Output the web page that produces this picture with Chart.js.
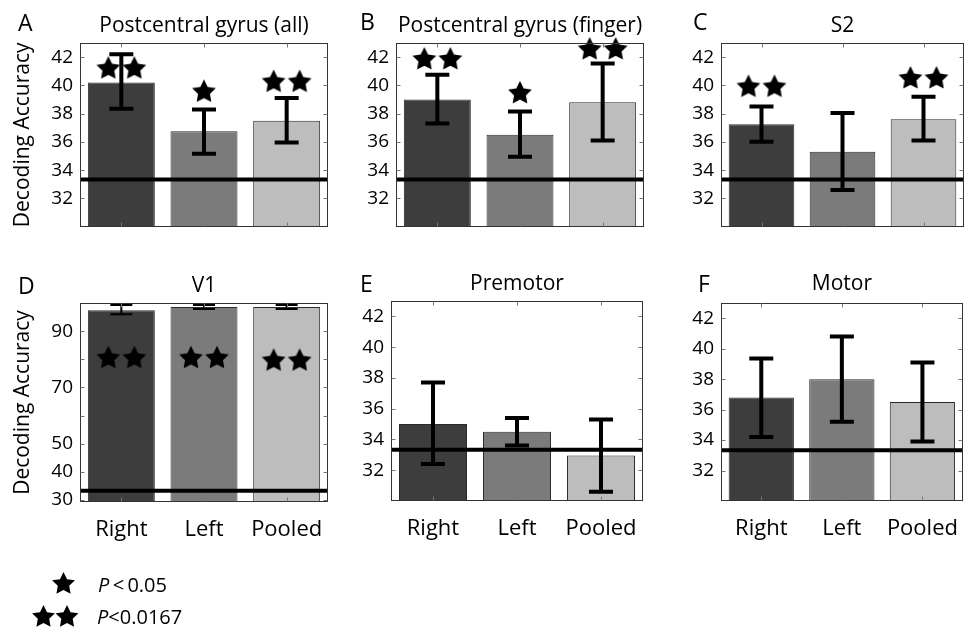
<!DOCTYPE html>
<html>
<head>
<meta charset="utf-8">
<script src="https://cdn.jsdelivr.net/npm/chart.js@4.4.1/dist/chart.umd.min.js"></script>
<style>
  html, body { margin: 0; padding: 0; background: #fff; }
  body { width: 968px; height: 633px; position: relative; overflow: hidden; font-family: "Open Sans", sans-serif; color: #000; }
  .panel { position: absolute; }
  .legend { position: absolute; font-size: 20px; line-height: 20px; white-space: nowrap; }
</style>
</head>
<body>
<div class="panel" style="left:0;top:0;width:340px;height:245px"><canvas id="cA"></canvas></div>
<div class="panel" style="left:340px;top:0;width:315px;height:245px"><canvas id="cB"></canvas></div>
<div class="panel" style="left:655px;top:0;width:320px;height:245px"><canvas id="cC"></canvas></div>
<div class="panel" style="left:0;top:250px;width:340px;height:300px"><canvas id="cD"></canvas></div>
<div class="panel" style="left:340px;top:250px;width:315px;height:300px"><canvas id="cE"></canvas></div>
<div class="panel" style="left:655px;top:250px;width:320px;height:300px"><canvas id="cF"></canvas></div>

<canvas id="legendStars" width="80" height="70" style="position:absolute;left:20px;top:565px"></canvas>
<div class="legend" style="left:98px;top:575px"><i>P</i>&thinsp;&lt;&thinsp;0.05</div>
<div class="legend" style="left:97px;top:607px"><i>P</i>&lt;0.0167</div>

<script>
// decoding accuracy (%) per hand condition, error bar ends and significance stars
var labels = ['Right', 'Left', 'Pooled'];
var chance = 100 / 3;

var yTicksPct = [32, 34, 36, 38, 40, 42];
var yTicksV1 = [30, 40, 50, 60, 70, 80, 90];
var yLabelsV1 = [30, 40, 50, 70, 90];

// A - Postcentral gyrus (all)
var meanA = [40.2, 36.75, 37.5];
var loA = [38.35, 35.15, 35.95];
var hiA = [42.2, 38.3, 39.1];
var starsA = [2, 1, 2];
var starYA = [41.15, 39.5, 40.2];

// B - Postcentral gyrus (finger)
var meanB = [39.0, 36.5, 38.8];
var loB = [37.3, 34.95, 36.1];
var hiB = [40.75, 38.15, 41.55];
var starsB = [2, 1, 2];
var starYB = [41.8, 39.4, 42.5];

// C - S2
var meanC = [37.25, 35.3, 37.6];
var loC = [36.0, 32.6, 36.1];
var hiC = [38.5, 38.05, 39.2];
var starsC = [2, 0, 2];
var starYC = [39.85, null, 40.45];

// D - V1
var meanD = [97.4, 98.6, 98.6];
var loD = [96.0, 97.9, 97.9];
var hiD = [99.3, 99.3, 99.3];
var starsD = [2, 2, 2];
var starYD = [80.2, 80.2, 79.3];

// E - Premotor
var meanE = [35.0, 34.5, 32.95];
var loE = [32.4, 33.6, 30.6];
var hiE = [37.7, 35.4, 35.3];
var starsE = [0, 0, 0];
var starYE = [null, null, null];

// F - Motor
var meanF = [36.8, 38.0, 36.5];
var loF = [34.2, 35.2, 33.9];
var hiF = [39.35, 40.8, 39.1];
var starsF = [0, 0, 0];
var starYF = [null, null, null];

var barColors = ['#3d3d3d', '#7b7b7b', '#bdbdbd'];

Chart.defaults.font.family = '"Open Sans", sans-serif';
Chart.defaults.color = '#000';

function drawStar(ctx, cx, cy, r) {
  ctx.beginPath();
  for (var k = 0; k < 10; k++) {
    var ang = -Math.PI / 2 + k * Math.PI / 5;
    var rr = k % 2 === 0 ? r : r * 0.5;
    var px = cx + rr * Math.cos(ang), py = cy + rr * Math.sin(ang);
    if (k === 0) ctx.moveTo(px, py); else ctx.lineTo(px, py);
  }
  ctx.closePath();
  ctx.fill();
}

function starImage(n) {
  var c = document.createElement('canvas');
  c.width = n === 2 ? 56 : 28;
  c.height = 28;
  var g = c.getContext('2d');
  g.fillStyle = '#000';
  if (n === 2) {
    drawStar(g, 28 - 13, 13.5, 12.5);
    drawStar(g, 28 + 13, 13.5, 12.5);
  } else {
    drawStar(g, 14, 13.5, 12.5);
  }
  return c;
}
var star1 = starImage(1), star2 = starImage(2);

function decor(p) {
  return {
    id: 'decor',
    afterDatasetsDraw: function (chart) {
      var ctx = chart.ctx, a = chart.chartArea;
      var x = chart.scales.x, y = chart.scales.y;
      ctx.save();

      // chance level
      var yc = y.getPixelForValue(chance);
      ctx.strokeStyle = '#000';
      ctx.lineWidth = 4;
      ctx.beginPath();
      ctx.moveTo(a.left, yc);
      ctx.lineTo(a.right, yc);
      ctx.stroke();

      // error bars
      ctx.lineWidth = p.errWidth;
      p.lo.forEach(function (lo, i) {
        var xp = x.getPixelForValue(i);
        var y1 = y.getPixelForValue(lo), y2 = y.getPixelForValue(p.hi[i]);
        ctx.beginPath();
        ctx.moveTo(xp, y1); ctx.lineTo(xp, y2);
        ctx.moveTo(xp - p.cap, y1); ctx.lineTo(xp + p.cap, y1);
        ctx.moveTo(xp - p.cap, y2); ctx.lineTo(xp + p.cap, y2);
        ctx.stroke();
      });

      // axes box with inward ticks
      ctx.lineWidth = 1;
      ctx.strokeStyle = '#333';
      var L = Math.round(a.left) + 0.5, R = Math.round(a.right) - 0.5;
      var T = Math.round(a.top) + 0.5, B = Math.round(a.bottom) - 0.5;
      ctx.strokeRect(L, T, R - L, B - T);
      ctx.strokeStyle = '#777';
      ctx.beginPath();
      labels.forEach(function (lb, i) {
        var xp = Math.round(x.getPixelForValue(i)) + 0.5;
        ctx.moveTo(xp, T); ctx.lineTo(xp, T + 4);
        ctx.moveTo(xp, B); ctx.lineTo(xp, B - 4);
      });
      y.ticks.forEach(function (t) {
        var yp = Math.round(y.getPixelForValue(t.value)) + 0.5;
        ctx.moveTo(L, yp); ctx.lineTo(L + 4, yp);
        ctx.moveTo(R, yp); ctx.lineTo(R - 4, yp);
      });
      ctx.stroke();

      // panel letter
      ctx.fillStyle = '#000';
      ctx.font = '23px "Open Sans"';
      ctx.textBaseline = 'alphabetic';
      ctx.textAlign = 'left';
      ctx.fillText(p.letter, a.left + p.letterDx, p.letterY);
      ctx.restore();
    }
  };
}

function makeChart(p) {
  new Chart(document.getElementById(p.id), {
    type: 'bar',
    data: {
      labels: labels,
      datasets: [{
        type: 'line',
        data: p.starY,
        showLine: false,
        pointStyle: function (c) { return p.stars[c.dataIndex] === 2 ? star2 : star1; },
        pointRadius: 10,
        clip: false,
        order: 0
      }, {
        type: 'bar',
        data: p.mean,
        backgroundColor: barColors,
        borderColor: '#2b2b2b',
        borderWidth: 1,
        borderSkipped: false,
        barPercentage: 0.81,
        categoryPercentage: 1,
        order: 1
      }]
    },
    options: {
      responsive: true,
      maintainAspectRatio: false,
      animation: false,
      events: [],
      layout: { padding: p.pad },
      scales: {
        x: {
          display: p.xlabels,
          grid: { display: false, drawTicks: false },
          border: { display: false },
          ticks: { font: { size: 22 }, color: '#000', padding: 15 },
          afterFit: function (s) { if (p.xlabels) s.height = 45; }
        },
        y: {
          min: p.min,
          max: p.max,
          afterBuildTicks: function (s) {
            s.ticks = p.ticks.map(function (v) { return { value: v }; });
          },
          afterFit: function (s) { s.width = p.yw; },
          grid: { display: false, drawTicks: false },
          border: { display: false },
          ticks: {
            font: { size: 19 },
            color: '#000',
            padding: 7,
            callback: function (v) { return p.tickLabels.indexOf(v) >= 0 ? v : ''; }
          },
          title: {
            display: !!p.ytitle,
            text: 'Decoding Accuracy',
            font: { size: 21 },
            color: '#000',
            padding: { top: 10, bottom: 0 }
          }
        }
      },
      plugins: {
        legend: { display: false },
        tooltip: { enabled: false },
        title: {
          display: true,
          text: p.title,
          fullSize: false,
          color: '#000',
          font: { size: 21, weight: 'normal' },
          padding: { top: p.tpt, bottom: p.tpb }
        }
      }
    },
    plugins: [decor(p)]
  });
}

var panels = [
  { id: 'cA', letter: 'A', title: 'Postcentral gyrus (all)', mean: meanA, lo: loA, hi: hiA, stars: starsA, starY: starYA,
    min: 30, max: 43, ticks: yTicksPct, tickLabels: yTicksPct, yw: 80, ytitle: true, xlabels: false,
    pad: { left: 0, right: 12, top: 0, bottom: 6 }, tpt: 13, tpb: 4.8, letterDx: -62, letterY: 31, errWidth: 4, cap: 12 },
  { id: 'cB', letter: 'B', title: 'Postcentral gyrus (finger)', mean: meanB, lo: loB, hi: hiB, stars: starsB, starY: starYB,
    min: 30, max: 43, ticks: yTicksPct, tickLabels: yTicksPct, yw: 56, ytitle: false, xlabels: false,
    pad: { left: 0, right: 10, top: 0, bottom: 6 }, tpt: 13, tpb: 4.8, letterDx: -36, letterY: 30, errWidth: 4, cap: 12 },
  { id: 'cC', letter: 'C', title: 'S2', mean: meanC, lo: loC, hi: hiC, stars: starsC, starY: starYC,
    min: 30, max: 43, ticks: yTicksPct, tickLabels: yTicksPct, yw: 66, ytitle: false, xlabels: false,
    pad: { left: 0, right: 6, top: 0, bottom: 6 }, tpt: 13, tpb: 4.8, letterDx: -28, letterY: 30, errWidth: 4, cap: 12 },
  { id: 'cD', letter: 'D', title: 'V1', mean: meanD, lo: loD, hi: hiD, stars: starsD, starY: starYD,
    min: 29.3, max: 100, ticks: yTicksV1, tickLabels: yLabelsV1, yw: 80, ytitle: true, xlabels: true,
    pad: { left: 0, right: 12, top: 0, bottom: 3 }, tpt: 23, tpb: 4.8, letterDx: -62, letterY: 44, errWidth: 2, cap: 11 },
  { id: 'cE', letter: 'E', title: 'Premotor', mean: meanE, lo: loE, hi: hiE, stars: starsE, starY: starYE,
    min: 30, max: 43, ticks: yTicksPct, tickLabels: yTicksPct, yw: 51, ytitle: false, xlabels: true,
    pad: { left: 0, right: 12, top: 0, bottom: 4 }, tpt: 21, tpb: 4.8, letterDx: -31, letterY: 42, errWidth: 4, cap: 12 },
  { id: 'cF', letter: 'F', title: 'Motor', mean: meanF, lo: loF, hi: hiF, stars: starsF, starY: starYF,
    min: 30, max: 43, ticks: yTicksPct, tickLabels: yTicksPct, yw: 66, ytitle: false, xlabels: true,
    pad: { left: 0, right: 6, top: 0, bottom: 4 }, tpt: 21, tpb: 6.8, letterDx: -23, letterY: 42, errWidth: 4, cap: 12 }
];

panels.forEach(makeChart);

// significance key
var lg = document.getElementById('legendStars').getContext('2d');
lg.fillStyle = '#000';
drawStar(lg, 43.5, 19, 12);
drawStar(lg, 23.5, 52, 12);
drawStar(lg, 47, 52, 12);
</script>
</body>
</html>
